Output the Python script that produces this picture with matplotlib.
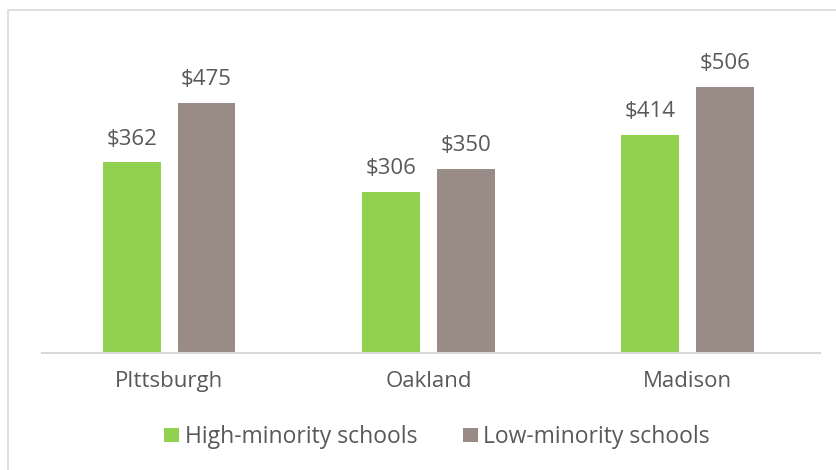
import matplotlib
matplotlib.use("Agg")
import matplotlib.pyplot as plt
from matplotlib.patches import Rectangle
import numpy as np

categories = ["PIttsburgh", "Oakland", "Madison"]
high_minority = [362, 306, 414]
low_minority = [475, 350, 506]
series_names = ["High-minority schools", "Low-minority schools"]
colors = ["#92D050", "#998B86"]

plt.rcParams['font.family'] = ['Open Sans', 'DejaVu Sans']
text_color = "#595959"
fs = 16

fig = plt.figure(figsize=(8.37, 4.70), dpi=100)
fig.patch.set_facecolor("white")
# chart border
fig.patches.append(Rectangle((8/837, -0.1), 1.2, 1 - 10/470 + 0.1, transform=fig.transFigure,
                             fill=False, edgecolor="#D9D9D9", linewidth=1.2))

ax = fig.add_axes([42/837, 1 - 353/470, (820-42)/837, (353-37)/470])
x = np.arange(len(categories))
w = 0.223
off = 0.144
b1 = ax.bar(x - off, high_minority, w, color=colors[0], label=series_names[0])
b2 = ax.bar(x + off, low_minority, w, color=colors[1], label=series_names[1])
for bars, vals in ((b1, high_minority), (b2, low_minority)):
    for rect, v in zip(bars, vals):
        ax.annotate(f"${v}", (rect.get_x() + rect.get_width()/2, v),
                    xytext=(0, 9), textcoords="offset points",
                    ha="center", va="bottom", fontsize=fs, color=text_color)

ax.set_xlim(-0.49, 2.51)
ax.set_ylim(0, 600)
ax.set_xticks(x)
ax.set_xticklabels(categories, fontsize=fs, color=text_color)
ax.tick_params(axis='x', length=0, pad=13)
ax.set_yticks([])
for s in ("top", "right", "left"):
    ax.spines[s].set_visible(False)
ax.spines["bottom"].set_color("#D9D9D9")
ax.spines["bottom"].set_linewidth(1.5)

leg = fig.legend(handles=[b1, b2], loc="center", bbox_to_anchor=(437/837, 1 - 437/470),
                 ncol=2, frameon=False, fontsize=16.5, handlelength=0.65, handleheight=0.6,
                 handletextpad=0.25, columnspacing=2.0)
for t in leg.get_texts():
    t.set_color(text_color)

fig.savefig("out.png", dpi=100)
